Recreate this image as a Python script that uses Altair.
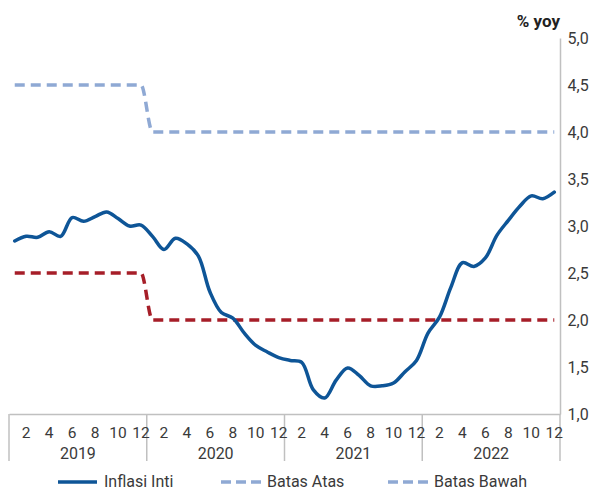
import altair as alt
import pandas as pd

years = ["2019", "2020", "2021", "2022"]
month_ticks = [2, 4, 6, 8, 10, 12]
y_ticks = [1.0, 1.5, 2.0, 2.5, 3.0, 3.5, 4.0, 4.5, 5.0]

inflasi_inti = [
    2.84, 2.89, 2.88, 2.94, 2.89, 3.09, 3.05, 3.10, 3.15, 3.08, 3.00, 3.01,
    2.89, 2.75, 2.87, 2.81, 2.68, 2.30, 2.08, 2.02, 1.86, 1.73, 1.66, 1.60,
    1.57, 1.55, 1.26, 1.17, 1.36, 1.49, 1.41, 1.30, 1.30, 1.33, 1.45, 1.57,
    1.86, 2.03, 2.35, 2.61, 2.57, 2.66, 2.90, 3.06, 3.21, 3.32, 3.29, 3.36,
]
batas_atas = [
    4.5, 4.5, 4.5, 4.5, 4.5, 4.5, 4.5, 4.5, 4.5, 4.5, 4.5, 4.5,
    4.0, 4.0, 4.0, 4.0, 4.0, 4.0, 4.0, 4.0, 4.0, 4.0, 4.0, 4.0,
    4.0, 4.0, 4.0, 4.0, 4.0, 4.0, 4.0, 4.0, 4.0, 4.0, 4.0, 4.0,
    4.0, 4.0, 4.0, 4.0, 4.0, 4.0, 4.0, 4.0, 4.0, 4.0, 4.0, 4.0,
]
batas_bawah = [
    2.5, 2.5, 2.5, 2.5, 2.5, 2.5, 2.5, 2.5, 2.5, 2.5, 2.5, 2.5,
    2.0, 2.0, 2.0, 2.0, 2.0, 2.0, 2.0, 2.0, 2.0, 2.0, 2.0, 2.0,
    2.0, 2.0, 2.0, 2.0, 2.0, 2.0, 2.0, 2.0, 2.0, 2.0, 2.0, 2.0,
    2.0, 2.0, 2.0, 2.0, 2.0, 2.0, 2.0, 2.0, 2.0, 2.0, 2.0, 2.0,
]
legend_labels = ["Inflasi Inti", "Batas Atas", "Batas Bawah"]

FONT = "Roboto"
TXT = "#3A3A3A"
GRAY = "#C0C0C0"
C_MAIN = "#0E5597"
C_ATAS = "#8FA9D4"
C_BAWAH = "#A61E28"

W, H = 551, 376

df = pd.DataFrame({
    "idx": list(range(len(inflasi_inti))),
    "inti": inflasi_inti,
    "atas": batas_atas,
    "bawah": batas_bawah,
})

xs = alt.Scale(domain=[-0.5, 47.5], nice=False, zero=False)
ys = alt.Scale(domain=[1, 5], nice=False, zero=False)

x_axis = alt.Axis(labels=False, ticks=False, grid=False, title=None,
                  domain=True, domainColor=GRAY, domainWidth=1.5)
y_axis = alt.Axis(orient="right", values=y_ticks, grid=False, ticks=False,
                  domainColor=GRAY, domainWidth=1.5, labelFont=FONT,
                  labelFontSize=16, labelColor=TXT, labelPadding=7,
                  labelExpr="replace(format(datum.value, '.1f'), '.', ',')",
                  title=None)


def X():
    return alt.X("idx:Q", scale=xs, axis=x_axis)


def Y(field):
    return alt.Y(field, scale=ys, axis=y_axis)


base = alt.Chart(df)

atas_line = base.mark_line(color=C_ATAS, strokeWidth=3.5, strokeDash=[10, 6],
                           interpolate="monotone").encode(x=X(), y=Y("atas:Q"))
bawah_line = base.mark_line(color=C_BAWAH, strokeWidth=3.5, strokeDash=[10, 6],
                            interpolate="monotone").encode(x=X(), y=Y("bawah:Q"))
main_line = base.mark_line(color=C_MAIN, strokeWidth=3.5, strokeCap="round",
                           interpolate="catmull-rom").encode(x=X(), y=Y("inti:Q"))

# category axis: month labels, year labels, separators
month_rows = []
for k, yr in enumerate(years):
    for m in month_ticks:
        month_rows.append({"idx": 12 * k + m - 1, "label": str(m)})
month_df = pd.DataFrame(month_rows)
year_df = pd.DataFrame({"idx": [12 * k + 5.5 for k in range(len(years))],
                        "label": years})
sep_df = pd.DataFrame({"idx": [12 * k - 0.5 for k in range(len(years) + 1)]})

month_text = alt.Chart(month_df).mark_text(
    font=FONT, fontSize=15.5, color=TXT, baseline="middle", align="center").encode(
    x=X(), y=alt.value(H + 19), text="label:N")
year_text = alt.Chart(year_df).mark_text(
    font=FONT, fontSize=16, color=TXT, baseline="middle", align="center").encode(
    x=X(), y=alt.value(H + 40), text="label:N")
seps = alt.Chart(sep_df).mark_rule(color=GRAY, strokeWidth=1.5).encode(
    x=X(), y=alt.value(H), y2=alt.value(H + 47))

title_text = alt.Chart(pd.DataFrame({"t": ["% yoy"]})).mark_text(
    font=FONT, fontSize=17, fontWeight="bold", color="#222222",
    align="right", baseline="middle").encode(
    x=alt.value(W), y=alt.value(-16), text="t:N")

# custom legend
one = pd.DataFrame({"a": [0]})
LY = 444
leg = []
leg_specs = [
    (49, 88, C_MAIN, None, 95, legend_labels[0]),
    (212, 253, C_ATAS, [10, 5], 258, legend_labels[1]),
    (379, 419, C_ATAS, [10, 5], 425, legend_labels[2]),
]
for x1, x2, col, dash, tx, lab in leg_specs:
    kw = dict(color=col, strokeWidth=3.5)
    if dash:
        kw["strokeDash"] = dash
    leg.append(alt.Chart(one).mark_rule(**kw).encode(
        x=alt.value(x1), x2=alt.value(x2), y=alt.value(LY)))
    leg.append(alt.Chart(pd.DataFrame({"t": [lab]})).mark_text(
        font=FONT, fontSize=16, color=TXT, align="left", baseline="middle").encode(
        x=alt.value(tx), y=alt.value(LY), text="t:N"))

chart = alt.layer(
    atas_line, bawah_line, main_line, seps, month_text, year_text, title_text, *leg
).properties(
    width=W, height=H,
    background="white",
    autosize=alt.AutoSizeParams(type="none"),
    padding={"left": 1, "top": 30, "right": 30, "bottom": 78},
).configure_view(stroke=None, strokeWidth=0)

chart.save("out.html", embed_options={"renderer": "svg", "actions": False})
